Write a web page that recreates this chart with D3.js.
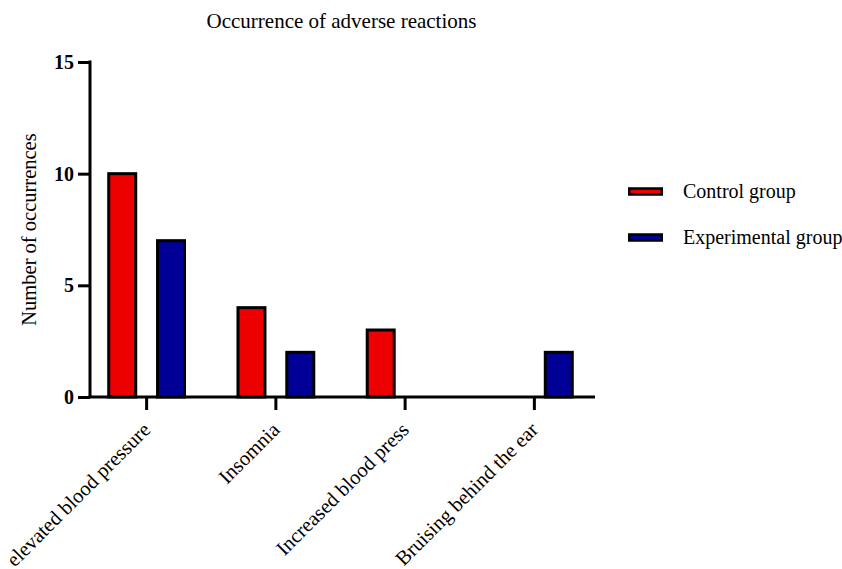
<!DOCTYPE html>
<html>
<head>
<meta charset="utf-8">
<script src="https://cdn.jsdelivr.net/npm/d3@7"></script>
<style>
  html, body { margin: 0; padding: 0; background: #fff; }
  svg { display: block; }
  text { font-family: "Liberation Serif", "Times New Roman", serif; fill: #000; }
</style>
</head>
<body>
<div id="chart"></div>
<script>
// ---- data ----
const categories = ["elevated blood pressure", "Insomnia", "Increased blood press", "Bruising behind the ear"];
const groups = ["Control group", "Experimental group"];
const controlValues = [10, 4, 3, 0];
const experimentalValues = [7, 2, 0, 2];
const yTicks = [0, 5, 10, 15];
const colors = ["#EC0000", "#000096"];
const title = "Occurrence of adverse reactions";
const yTitle = "Number of occurrences";

const W = 842, H = 569;
const svg = d3.select("#chart").append("svg").attr("width", W).attr("height", H);

const y = d3.scaleLinear().domain([0, 15]).range([397, 62]);
const x0 = d3.scaleBand().domain(categories).range([82, 599]).paddingInner(0).paddingOuter(0);
const x1 = d3.scaleBand().domain(groups).range([-37.9, 37.9]).paddingInner(0.447).paddingOuter(0);

const seriesValues = [controlValues, experimentalValues];
const data = [];
categories.forEach((c, i) => {
  groups.forEach((g, j) => {
    data.push({ cat: c, group: g, value: seriesValues[j][i], color: colors[j] });
  });
});

// bars
svg.append("g").selectAll("rect").data(data.filter(d => d.value > 0)).join("rect")
  .attr("x", d => x0(d.cat) + x0.bandwidth() / 2 + x1(d.group))
  .attr("y", d => y(d.value))
  .attr("width", x1.bandwidth())
  .attr("height", d => y(0) - y(d.value))
  .attr("fill", d => d.color)
  .attr("stroke", "#000")
  .attr("stroke-width", 3);

// y axis
const yAxis = svg.append("g").attr("transform", "translate(90,0)")
  .call(d3.axisLeft(y).tickValues(yTicks).tickSize(12).tickPadding(4).tickFormat(d3.format("d")));
yAxis.select(".domain").attr("d", `M0,${y(15) - 1.5}V${y(0)}`).attr("stroke", "#000").attr("stroke-width", 3);
yAxis.selectAll(".tick line").attr("stroke", "#000").attr("stroke-width", 3);
yAxis.selectAll(".tick text").style("font-family", "'Liberation Serif', serif")
  .style("font-size", "20px").style("font-weight", "bold").attr("fill", "#000");

// x axis
const xAxis = svg.append("g").attr("transform", `translate(0,${y(0)})`)
  .call(d3.axisBottom(x0).tickSize(13).tickSizeOuter(0).tickFormat(""));
xAxis.select(".domain").attr("d", "M88.5,0H595").attr("stroke", "#000").attr("stroke-width", 3);
xAxis.selectAll(".tick line").attr("stroke", "#000").attr("stroke-width", 3);

// x labels rotated
svg.append("g").selectAll("text").data(categories).join("text")
  .attr("transform", d => `translate(${x0(d) + x0.bandwidth() / 2 + 5},${y(0) + 34}) rotate(-45)`)
  .attr("text-anchor", "end")
  .style("font-size", "20.5px")
  .text(d => d);

// title
svg.append("text").attr("x", 341.5).attr("y", 28).attr("text-anchor", "middle")
  .style("font-size", "21px").text(title);

// y title
svg.append("text").attr("transform", `translate(36,${(y(0) + y(15)) / 2}) rotate(-90)`)
  .attr("text-anchor", "middle").style("font-size", "20.5px").text(yTitle);

// legend
const legend = svg.append("g").selectAll("g").data(groups).join("g")
  .attr("transform", (d, i) => `translate(628,${191.5 + i * 46})`);
legend.append("rect").attr("x", 1.25).attr("y", -3).attr("width", 32.5).attr("height", 6)
  .attr("fill", (d, i) => colors[i]).attr("stroke", "#000").attr("stroke-width", 2.5);
legend.append("text").attr("x", 55).attr("y", 6.5).style("font-size", "20px").text(d => d);
</script>
</body>
</html>
